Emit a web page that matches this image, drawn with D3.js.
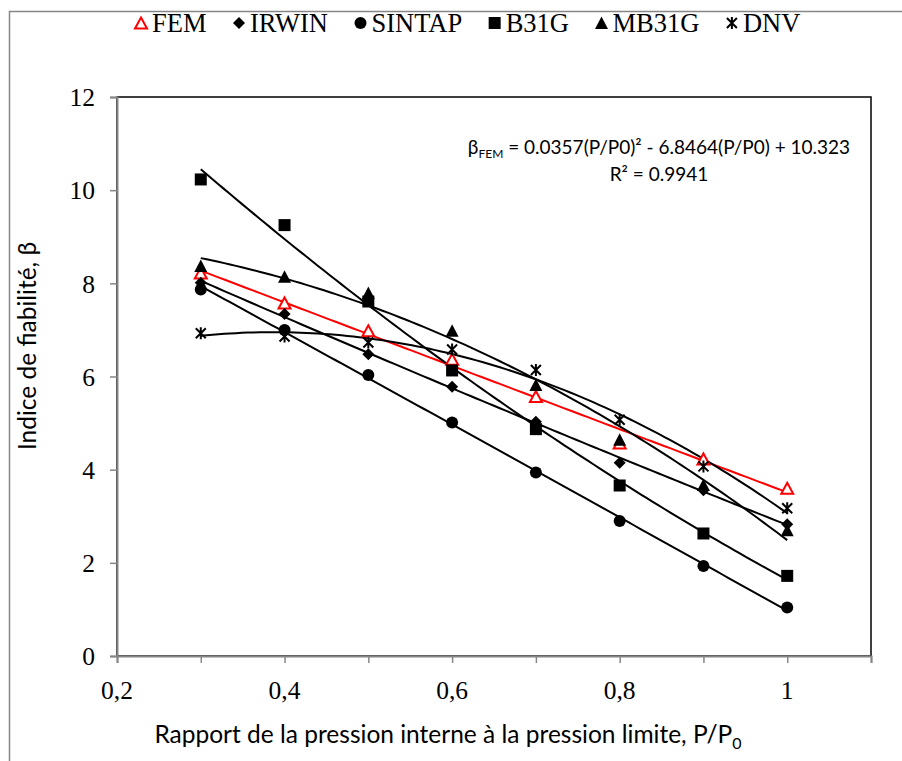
<!DOCTYPE html>
<html>
<head>
<meta charset="utf-8">
<script src="https://cdnjs.cloudflare.com/ajax/libs/d3/7.8.5/d3.min.js"></script>
<style>
  body { margin: 0; background: #fff; }
  svg { display: block; }
</style>
</head>
<body>
<svg id="chart" width="902" height="761"></svg>
<script>
// Pressure ratio P/P0 at which each reliability index was computed
const pressureRatio = [0.3, 0.4, 0.5, 0.6, 0.7, 0.8, 0.9, 1.0];

// Reliability index beta per assessment method
const femBeta    = [8.22, 7.58, 6.98, 6.37, 5.57, 4.57, 4.23, 3.60];
const irwinBeta  = [8.01, 7.34, 6.48, 5.78, 5.03, 4.15, 3.56, 2.83];
const sintapBeta = [7.87, 7.00, 6.03, 5.01, 3.94, 2.90, 1.93, 1.04];
const b31gBeta   = [10.23, 9.25, 7.61, 6.13, 4.87, 3.66, 2.63, 1.72];
const mb31gBeta  = [8.37, 8.14, 7.79, 6.98, 5.82, 4.64, 3.67, 2.70];
const dnvBeta    = [6.93, 6.86, 6.73, 6.58, 6.14, 5.07, 4.07, 3.17];

// Quadratic trend of the FEM results: a*x^2 + b*x + c
const femTrendCoeffs = [0.0357, -6.8464, 10.323];
const femTrendR2 = 0.9941;

const seriesNames = ["FEM", "IRWIN", "SINTAP", "B31G", "MB31G", "DNV"];
const yTicks = [0, 2, 4, 6, 8, 10, 12];
const xTicks = [0.2, 0.3, 0.4, 0.5, 0.6, 0.7, 0.8, 0.9, 1.0, 1.1];
const xTickLabels = [0.2, 0.4, 0.6, 0.8, 1.0];

const xTitle = "Rapport de la pression interne à la pression limite, P/P";
const yTitle = "Indice de fiabilité, β";

const series = [
  { name: seriesNames[0], values: femBeta,    shape: "openTriangle", color: "#ff0000" },
  { name: seriesNames[1], values: irwinBeta,  shape: "diamond",      color: "#000" },
  { name: seriesNames[2], values: sintapBeta, shape: "circle",       color: "#000" },
  { name: seriesNames[3], values: b31gBeta,   shape: "square",       color: "#000" },
  { name: seriesNames[4], values: mb31gBeta,  shape: "triangle",     color: "#000" },
  { name: seriesNames[5], values: dnvBeta,    shape: "star",         color: "#000" }
];

const svg = d3.select("#chart");
const serif = "'Liberation Serif', 'Times New Roman', serif";
const sans = "Lato, 'Open Sans', sans-serif";
const grey = "#868686";

const x = d3.scaleLinear().domain([0.2, 1.1]).range([117, 871]);
const y = d3.scaleLinear().domain([0, 12]).range([656, 97]);

const commaLocale = d3.formatLocale({ decimal: ",", thousands: " ", grouping: [3], currency: ["", ""] });
const fmtX = d => (Math.abs(d - 1) < 1e-9 ? "1" : commaLocale.format(".1f")(d));

// Outer chart frame
svg.append("rect")
  .attr("x", 9.5).attr("y", 11.5)
  .attr("width", 1000).attr("height", 1000)
  .attr("fill", "none").attr("stroke", grey).attr("stroke-width", 1.5);

// Plot-area border
svg.append("rect")
  .attr("x", x(0.2)).attr("y", y(12))
  .attr("width", x(1.1) - x(0.2)).attr("height", y(0) - y(12))
  .attr("fill", "none").attr("stroke", "#000").attr("stroke-width", 1.5);

// Y axis
const yAxis = svg.append("g")
  .attr("transform", `translate(${x(0.2)},0)`)
  .call(d3.axisLeft(y).tickValues(yTicks).tickSize(7).tickPadding(15).tickFormat(d3.format("d")));
yAxis.select(".domain").attr("stroke", grey).attr("stroke-width", 2);
yAxis.selectAll(".tick line").attr("stroke", grey).attr("stroke-width", 1.5);
yAxis.selectAll(".tick text")
  .attr("font-family", serif).attr("font-size", 25.5).attr("fill", "#000").attr("dy", "0.34em");

// X axis
const xAxis = svg.append("g")
  .attr("transform", `translate(0,${y(0)})`)
  .call(d3.axisBottom(x).tickValues(xTicks).tickSize(7).tickFormat(""));
xAxis.select(".domain").attr("stroke", grey).attr("stroke-width", 2);
xAxis.selectAll(".tick line").attr("stroke", grey).attr("stroke-width", 1.5);
xAxis.selectAll(".tick text").remove();
svg.append("g").selectAll("text")
  .data(xTickLabels)
  .join("text")
  .attr("x", d => x(d)).attr("y", y(0) + 43)
  .attr("text-anchor", "middle")
  .attr("font-family", serif).attr("font-size", 25.5)
  .text(fmtX);

// Least-squares quadratic trend through a series
function quadFit(xs, ys) {
  let s = [0, 0, 0, 0, 0], t = [0, 0, 0];
  xs.forEach((xv, i) => {
    for (let k = 0; k < 5; k++) s[k] += Math.pow(xv, k);
    for (let k = 0; k < 3; k++) t[k] += ys[i] * Math.pow(xv, k);
  });
  const A = [[s[0], s[1], s[2], t[0]], [s[1], s[2], s[3], t[1]], [s[2], s[3], s[4], t[2]]];
  for (let i = 0; i < 3; i++) {
    for (let j = i + 1; j < 3; j++) {
      const f = A[j][i] / A[i][i];
      for (let k = i; k < 4; k++) A[j][k] -= f * A[i][k];
    }
  }
  const c = [0, 0, 0];
  for (let i = 2; i >= 0; i--) {
    let v = A[i][3];
    for (let k = i + 1; k < 3; k++) v -= A[i][k] * c[k];
    c[i] = v / A[i][i];
  }
  return p => c[0] + c[1] * p + c[2] * p * p; // c0 + c1 x + c2 x^2
}

const xMin = d3.min(pressureRatio), xMax = d3.max(pressureRatio);
const samples = d3.range(0, 101).map(i => xMin + (xMax - xMin) * i / 100);
const line = d3.line().x(d => x(d[0])).y(d => y(d[1]));

const trendLayer = svg.append("g");
series.forEach(s => {
  let f;
  if (s.name === "FEM") {
    const [a, b, c] = femTrendCoeffs;
    f = p => a * p * p + b * p + c;
  } else {
    f = quadFit(pressureRatio, s.values);
  }
  trendLayer.append("path")
    .attr("d", line(samples.map(p => [p, f(p)])))
    .attr("fill", "none")
    .attr("stroke", s.color)
    .attr("stroke-width", 2);
});

// Marker drawing
function drawMarker(g, shape, cx, cy, color) {
  const h = 6;
  switch (shape) {
    case "openTriangle":
      g.append("path")
        .attr("d", `M${cx},${cy - h + 0.5}L${cx + h},${cy + h - 0.5}L${cx - h},${cy + h - 0.5}Z`)
        .attr("fill", "#fff").attr("stroke", color).attr("stroke-width", 2);
      break;
    case "triangle":
      g.append("path")
        .attr("d", `M${cx},${cy - h - 0.5}L${cx + h + 0.5},${cy + h}L${cx - h - 0.5},${cy + h}Z`)
        .attr("fill", color);
      break;
    case "diamond":
      g.append("path")
        .attr("d", `M${cx},${cy - h}L${cx + h},${cy}L${cx},${cy + h}L${cx - h},${cy}Z`)
        .attr("fill", color);
      break;
    case "circle":
      g.append("circle").attr("cx", cx).attr("cy", cy).attr("r", 6).attr("fill", color);
      break;
    case "square":
      g.append("rect").attr("x", cx - 6).attr("y", cy - 6).attr("width", 12).attr("height", 12).attr("fill", color);
      break;
    case "star":
      g.append("path")
        .attr("d", `M${cx - 5},${cy - 5}L${cx + 5},${cy + 5}M${cx + 5},${cy - 5}L${cx - 5},${cy + 5}M${cx},${cy - 6}L${cx},${cy + 6}`)
        .attr("fill", "none").attr("stroke", color).attr("stroke-width", 2);
      break;
  }
}

const markerLayer = svg.append("g");
series.forEach(s => {
  s.values.forEach((v, i) => drawMarker(markerLayer, s.shape, x(pressureRatio[i]), y(v), s.color));
});

// Legend
const legend = svg.append("g");
let lx = 141;
const ly = 23;
series.forEach(s => {
  drawMarker(legend, s.shape, lx, ly, s.color);
  const t = legend.append("text")
    .attr("x", lx + 11).attr("y", ly + 9)
    .attr("font-family", serif).attr("font-size", 26.5)
    .text(s.name);
  const w = t.node().getComputedTextLength();
  lx = lx + 11 + w + 32.5;
});

// Trend equation
const eq = svg.append("text")
  .attr("x", 659).attr("y", 154)
  .attr("text-anchor", "middle")
  .attr("font-family", sans).attr("font-size", 19);
eq.append("tspan").text("β");
eq.append("tspan").attr("font-size", 12).attr("dy", 4).text("FEM");
eq.append("tspan").attr("dy", -4)
  .text(` = ${femTrendCoeffs[0]}(P/P0)² - ${Math.abs(femTrendCoeffs[1])}(P/P0) + ${femTrendCoeffs[2]}`);
svg.append("text")
  .attr("x", 659).attr("y", 181)
  .attr("text-anchor", "middle")
  .attr("font-family", sans).attr("font-size", 19)
  .text(`R² = ${femTrendR2}`);

// Axis titles
const xt = svg.append("text")
  .attr("x", 448).attr("y", 743)
  .attr("text-anchor", "middle")
  .attr("font-family", sans).attr("font-size", 24.5);
xt.append("tspan").text(xTitle);
xt.append("tspan").attr("font-size", 16).attr("dy", 6).text("0");

svg.append("text")
  .attr("transform", "translate(36,346) rotate(-90)")
  .attr("text-anchor", "middle")
  .attr("font-family", sans).attr("font-size", 24.5)
  .text(yTitle);
</script>
</body>
</html>
